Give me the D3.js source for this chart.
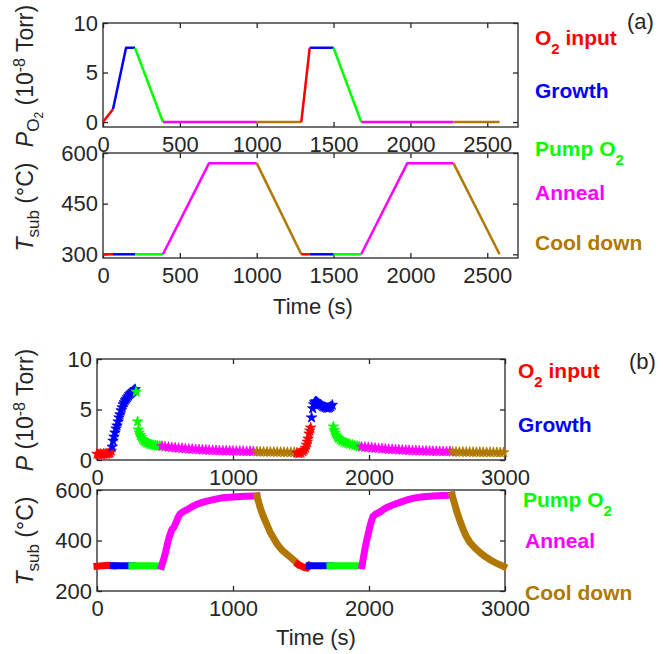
<!DOCTYPE html>
<html>
<head>
<meta charset="utf-8">
<script src="https://cdn.jsdelivr.net/npm/d3@7"></script>
<style>
  body { margin: 0; background: #fff; }
  text { font-family: "Liberation Sans", Arial, sans-serif; fill: #262626; }
</style>
</head>
<body>
<svg id="fig" width="663" height="654"></svg>
<script>
// phases of one growth cycle
var phaseColors = ["#ff0000", "#0000ff", "#00ff00", "#ff00ff", "#b07800"];
// odd parts are subscripts
var phaseLabels = [["O", "2", " input"], ["Growth"], ["Pump O", "2"], ["Anneal"], ["Cool down"]];

// (a) planned schedule, phase of segment i -> i+1 in aPhase
var aTime     = [0, 65, 150, 208, 390, 690, 1000, 1290, 1345, 1500, 1680, 1980, 2280, 2580];
var aPressure = [0, 1.3, 7.5, 7.5, 0, 0, 0, 0, 7.5, 7.5, 0, 0, 0, 0];
var aTemp     = [300, 300, 300, 300, 300, 570, 570, 300, 300, 300, 300, 570, 570, 300];
var aPhase    = [0, 1, 1, 2, 3, 3, 4, 0, 1, 2, 3, 3, 4];
var aTimeTicks = [0, 500, 1000, 1500, 2000, 2500];
var aPressureTicks = [0, 5, 10];
var aTempTicks = [300, 450, 600];

// (b) measured, [time, value]
var bPressure = [
  [0,0.6],[12,0.55],[24,0.6],[36,0.55],[48,0.6],[60,0.6],[72,0.6],[84,0.65],[96,0.7],[105,0.9],
  [112,1.3],[118,1.9],[125,2.3],[132,2.7],[140,3.1],[147,3.4],[155,3.8],[162,4.2],[169,4.5],[177,4.9],
  [185,5.2],[192,5.5],[200,5.7],[208,5.9],[216,6.05],[224,6.2],[232,6.35],[240,6.5],[248,6.6],[256,6.7],
  [264,6.8],[272,6.9],[280,7.0],
  [288,6.75],[298,3.8],[304,3.0],[310,2.7],[318,2.45],[326,2.25],[335,2.05],[345,1.9],[355,1.8],[366,1.7],
  [378,1.62],[390,1.55],[404,1.5],[418,1.46],[432,1.43],[446,1.4],[462,1.38],
  [478,1.36],[500,1.32],[525,1.28],[550,1.24],[575,1.21],[600,1.18],[625,1.15],[650,1.12],[675,1.1],
  [700,1.07],[725,1.05],[750,1.03],[775,1.01],[800,0.99],[825,0.97],[850,0.96],[875,0.94],[900,0.93],
  [925,0.92],[950,0.91],[975,0.9],[1000,0.89],[1025,0.88],[1050,0.87],[1075,0.87],[1100,0.86],[1125,0.86],
  [1150,0.85],
  [1176,0.82],[1200,0.81],[1225,0.8],[1250,0.8],[1275,0.79],[1300,0.79],[1325,0.78],[1350,0.78],[1375,0.77],
  [1400,0.77],[1425,0.76],[1450,0.76],
  [1470,0.7],[1485,0.65],[1500,0.7],[1515,0.85],[1525,1.0],[1533,1.2],[1540,1.5],[1547,1.8],[1553,2.1],
  [1559,2.6],[1565,2.9],[1571,3.2],
  [1578,4.2],[1586,5.1],[1593,5.5],[1600,5.7],[1608,5.8],[1616,5.75],[1624,5.65],[1632,5.55],[1640,5.5],
  [1650,5.4],[1660,5.3],[1670,5.25],[1680,5.2],[1690,5.15],[1700,5.15],[1710,5.2],[1720,5.3],[1730,5.45],
  [1738,3.3],[1744,2.95],[1750,2.7],[1758,2.5],[1766,2.3],[1775,2.15],[1787,2.0],[1800,1.88],[1815,1.78],
  [1830,1.7],[1845,1.63],[1860,1.57],[1878,1.5],[1895,1.43],[1912,1.37],[1928,1.32],
  [1945,1.3],[1970,1.27],[1995,1.24],[2020,1.21],[2045,1.18],[2070,1.15],[2095,1.12],[2120,1.1],[2145,1.07],
  [2170,1.05],[2195,1.03],[2220,1.01],[2245,0.99],[2270,0.97],[2295,0.96],[2320,0.94],[2345,0.93],[2370,0.92],
  [2395,0.9],[2420,0.89],[2445,0.88],[2470,0.87],[2495,0.86],[2520,0.85],[2545,0.85],[2570,0.84],[2595,0.84],
  [2615,0.8],[2640,0.8],[2665,0.79],[2690,0.79],[2715,0.78],[2740,0.78],[2765,0.77],[2790,0.77],[2815,0.77],
  [2840,0.76],[2865,0.76],[2890,0.76],[2915,0.75],[2940,0.75],[2965,0.75],[2990,0.75]
];
var bPressureBreaks = [0, 110, 285, 476, 1170, 1465, 1575, 1735, 1940, 2605];

var bTemp = [
  [0,298],[40,300],[78,302],
  [120,300],[170,300],[220,300],
  [257,300],[310,300],[360,300],[420,300],
  [474,298],[490,325],[505,355],[520,392],[535,420],[551,444],[565,452],[580,470],[595,490],[610,505],
  [630,513],[662,522],[700,534],[735,544],[780,552],[831,559],[880,565],[926,569],[1000,572],[1051,574],
  [1100,575],[1150,576],
  [1176,576],[1200,530],[1221,498],[1250,462],[1272,434],[1300,408],[1324,386],[1360,362],[1397,345],
  [1430,330],[1465,314],
  [1478,306],[1500,299],[1525,293],[1545,291],
  [1560,300],[1610,300],[1660,300],[1700,300],
  [1713,300],[1770,300],[1830,300],[1890,300],
  [1948,300],[1960,335],[1971,370],[1985,405],[1996,430],[2007,456],[2018,478],[2029,495],[2050,505],
  [2081,513],[2110,524],[2132,531],[2180,542],[2228,551],[2280,561],[2338,569],[2400,573],[2471,576],
  [2540,578],[2590,579],
  [2610,580],[2630,545],[2647,512],[2670,476],[2691,446],[2715,416],[2743,392],[2780,370],[2816,352],
  [2850,338],[2890,324],[2940,309],[2990,297]
];
var bTempBreaks = [0, 81, 257, 474, 1176, 1478, 1560, 1713, 1948, 2610];
var cycleOrder = [0, 1, 2, 3, 4, 0, 1, 2, 3, 4];

var bTimeTicks = [0, 1000, 2000, 3000];
var bPressureTicks = [0, 5, 10];
var bTempTicks = [200, 400, 600];

var svg = d3.select("#fig");
var fontSize = 22;
var labelSize = 23;
var axisColor = "#262626";

function segmentOf(t, breaks) {
  return d3.bisectRight(breaks, t) - 1;
}

// box with inward ticks on all four sides, labels left and bottom
function makeAxes(box, xDomain, yDomain, xTicks, yTicks) {
  var x = d3.scaleLinear().domain(xDomain).range([box.left, box.right]);
  var y = d3.scaleLinear().domain(yDomain).range([box.bottom, box.top]);
  var g = svg.append("g");
  var fmt = d3.format("d");

  var axes = [
    [d3.axisBottom(x).tickValues(xTicks).tickFormat(fmt).tickPadding(9), "translate(0," + box.bottom + ")"],
    [d3.axisTop(x).tickValues(xTicks).tickFormat(""), "translate(0," + box.top + ")"],
    [d3.axisLeft(y).tickValues(yTicks).tickFormat(fmt).tickPadding(5), "translate(" + box.left + ",0)"],
    [d3.axisRight(y).tickValues(yTicks).tickFormat(""), "translate(" + box.right + ",0)"]
  ];
  axes.forEach(function(a) {
    var ax = g.append("g")
      .attr("transform", a[1])
      .call(a[0].tickSizeInner(-5).tickSizeOuter(0));
    ax.select(".domain").remove();
    ax.selectAll("line").attr("stroke", axisColor).attr("stroke-width", 1.3);
    ax.selectAll("text")
      .attr("font-size", fontSize)
      .attr("font-family", "Liberation Sans, Arial, sans-serif")
      .attr("fill", axisColor);
  });

  g.append("rect")
    .attr("x", box.left).attr("y", box.top)
    .attr("width", box.right - box.left).attr("height", box.bottom - box.top)
    .attr("fill", "none").attr("stroke", axisColor).attr("stroke-width", 1.3);

  return { g: g, x: x, y: y };
}

// rotated label, parts = [text, dy, size, italic]
function yLabel(xPos, yPos, parts) {
  var t = svg.append("text")
    .attr("transform", "translate(" + xPos + "," + yPos + ") rotate(-90)")
    .attr("text-anchor", "middle")
    .attr("font-size", labelSize);
  parts.forEach(function(p) {
    t.append("tspan").text(p[0]).attr("dy", p[1]).attr("font-size", p[2])
      .attr("font-style", p[3] ? "italic" : null);
  });
}

function legend(xs, ys) {
  phaseLabels.forEach(function(parts, i) {
    var t = svg.append("text")
      .attr("x", xs[i]).attr("y", ys[i])
      .attr("font-size", 21)
      .attr("font-weight", "bold")
      .style("fill", phaseColors[i]);
    parts.forEach(function(p, j) {
      var sub = j % 2 === 1;
      var prevSub = j > 0 && (j - 1) % 2 === 1;
      t.append("tspan").text(p)
        .attr("font-size", sub ? 15 : 21)
        .attr("dy", sub ? 9 : (prevSub ? -9 : 0));
    });
  });
}

// ---------- (a) ----------
var a1 = makeAxes({ left: 103, right: 518, top: 23, bottom: 127 }, [0, 2700], [-0.5, 10], aTimeTicks, aPressureTicks);
var a2 = makeAxes({ left: 103, right: 518, top: 153, bottom: 258 }, [0, 2700], [289, 600], aTimeTicks, aTempTicks);

function drawSchedule(ax, values) {
  var runs = [];
  for (var i = 0; i < aPhase.length; i++) {
    var pt = [aTime[i + 1], values[i + 1]];
    if (runs.length && runs[runs.length - 1].phase === aPhase[i]) {
      runs[runs.length - 1].pts.push(pt);
    } else {
      runs.push({ phase: aPhase[i], pts: [[aTime[i], values[i]], pt] });
    }
  }
  var line = d3.line()
    .x(function(d) { return ax.x(d[0]); })
    .y(function(d) { return ax.y(d[1]); });
  ax.g.selectAll(".run")
    .data(runs)
    .enter()
    .append("path")
    .attr("class", "run")
    .attr("d", function(d) { return line(d.pts); })
    .attr("fill", "none")
    .attr("stroke", function(d) { return phaseColors[d.phase]; })
    .attr("stroke-width", 2.5)
    .attr("stroke-linejoin", "round");
}
drawSchedule(a1, aPressure);
drawSchedule(a2, aTemp);

yLabel(33, 76, [["P", 0, labelSize, true], ["O", 6, 17, false], ["2", 4, 12, false],
                [" (10", -10, labelSize, false], ["-8", -8, 16, false], [" Torr)", 8, labelSize, false]]);
yLabel(33, 207, [["T", 0, labelSize, true], ["sub", 6, 17, false], [" (°C)", -6, labelSize, false]]);

svg.append("text").attr("x", 313).attr("y", 314).attr("text-anchor", "middle")
  .attr("font-size", fontSize).text("Time (s)");
svg.append("text").attr("x", 627).attr("y", 29).attr("font-size", 22).text("(a)");
legend([535, 535, 535, 535, 535], [45, 98, 156, 200, 250]);

// ---------- (b) ----------
var b1 = makeAxes({ left: 97, right: 505, top: 359, bottom: 460 }, [0, 3000], [0, 10], bTimeTicks, bPressureTicks);
var b2 = makeAxes({ left: 97, right: 505, top: 490, bottom: 591 }, [0, 3000], [200, 600], bTimeTicks, bTempTicks);

// temperature: thick line per phase
var tempRuns = [];
bTemp.forEach(function(d) {
  var s = segmentOf(d[0], bTempBreaks);
  if (tempRuns.length && tempRuns[tempRuns.length - 1].seg === s) {
    tempRuns[tempRuns.length - 1].pts.push(d);
  } else {
    if (tempRuns.length) tempRuns[tempRuns.length - 1].pts.push(d);
    tempRuns.push({ seg: s, pts: [d] });
  }
});
var tLine = d3.line()
  .x(function(d) { return b2.x(d[0]); })
  .y(function(d) { return b2.y(d[1]); });
b2.g.selectAll(".trun")
  .data(tempRuns)
  .enter()
  .append("path")
  .attr("class", "trun")
  .attr("d", function(d) { return tLine(d.pts); })
  .attr("fill", "none")
  .attr("stroke", function(d) { return phaseColors[cycleOrder[d.seg]]; })
  .attr("stroke-width", 7)
  .attr("stroke-linejoin", "miter")
  .attr("stroke-linecap", "square");

// pressure: star markers
var star = d3.symbol().type(d3.symbolStar).size(34);
b1.g.selectAll(".pt")
  .data(bPressure)
  .enter()
  .append("path")
  .attr("class", "pt")
  .attr("d", star)
  .attr("transform", function(d) { return "translate(" + b1.x(d[0]) + "," + b1.y(d[1]) + ")"; })
  .attr("fill", function(d) { return phaseColors[cycleOrder[segmentOf(d[0], bPressureBreaks)]]; })
  .attr("stroke", function(d) { return phaseColors[cycleOrder[segmentOf(d[0], bPressureBreaks)]]; })
  .attr("stroke-width", 0.8);

yLabel(33, 410, [["P", 0, labelSize, true], [" (10", 0, labelSize, false], ["-8", -8, 16, false],
                 [" Torr)", 8, labelSize, false]]);
yLabel(33, 541, [["T", 0, labelSize, true], ["sub", 6, 17, false], [" (°C)", -6, labelSize, false]]);

svg.append("text").attr("x", 316).attr("y", 645).attr("text-anchor", "middle")
  .attr("font-size", fontSize).text("Time (s)");
svg.append("text").attr("x", 629).attr("y", 369).attr("font-size", 22).text("(b)");
legend([518, 518, 523, 525, 525], [378, 432, 507, 548, 600]);
</script>
</body>
</html>
